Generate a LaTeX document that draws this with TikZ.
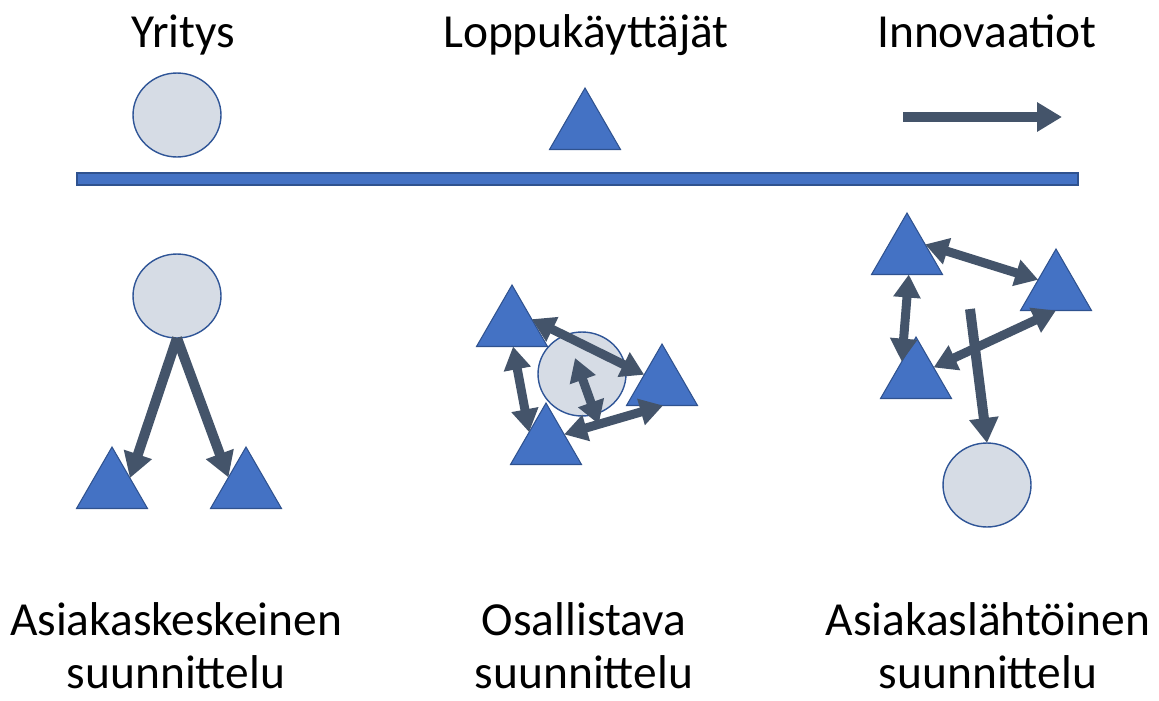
\documentclass[tikz,border=0pt]{standalone}
\usepackage{fontspec}
\setmainfont{Carlito}
\usetikzlibrary{
  shapes.geometric,
  arrows.meta
}
\definecolor{trifill}{HTML}{4472C4}
\definecolor{triline}{HTML}{2F528F}
\definecolor{ballfill}{HTML}{D6DCE5}
\definecolor{ballline}{HTML}{2F5597}
\definecolor{arrowgray}{HTML}{44546A}

\begin{document}
\begin{tikzpicture}[
    x=0.02cm, y=-0.02cm,
  label/.style = {anchor=base, inner sep=0pt, align=center,
    font=\fontsize{27}{30}\selectfont},
  ball/.style = {ellipse, draw=ballline, line width=0.8pt,
    fill=ballfill, minimum width=1.76cm, minimum height=1.68cm,
    inner sep=0pt, outer sep=0pt},
  user/.style = {regular polygon, regular polygon sides=3,
    draw=triline, line width=0.6pt, fill=trifill,
    minimum size=1.64cm, inner sep=0pt, outer sep=0pt}]
    \tikzstyle{oneway}=[draw=arrowgray, line width=0.2cm,
      -{Triangle[length=0.5cm,width=0.56cm]}]
    \tikzstyle{twoway}=[draw=arrowgray, line width=0.18cm,
      {Triangle[length=0.46cm,width=0.52cm]}-{Triangle[length=0.46cm,width=0.52cm]}]
  \useasboundingbox (0,0) rectangle (1159,700);

  \node[label] (yritys) at (183,47) {Yritys};
  \node[label] (loppu) at (586,47) {Loppukäyttäjät};
  \node[label] (innov) at (987,47) {Innovaatiot};

  \node[ball] (keyball) at (177,115) {};
  \node[user] (keyuser) at (585,129) {};
  \coordinate (keyA) at (903,117);
  \coordinate (keyB) at (1062,117);
  \draw[oneway] (keyA) -- (keyB);

  \fill[trifill, draw=triline, line width=0.6pt] (77,173) rectangle (1078,185);

  \node[ball] (lball) at (177,296) {};
  \node[user] (luserL) at (112,488) {};
  \node[user] (luserR) at (246,488) {};
  \draw[oneway] (lball.south) -- (luserL.29);
  \draw[oneway] (lball.south) -- (luserR.149);

  \node[ball] (mball) at (582,374) {};
  \node[user] (muserT) at (512,326) {};
  \node[user] (muserR) at (662,385) {};
  \node[user] (muserB) at (546,444) {};
  \coordinate (minside) at (575,358);
  \draw[twoway] (muserT.19) -- (muserR.150);
  \draw[twoway] (muserT.-87) -- (muserB.145);
  \draw[twoway] (muserB.28) -- coordinate[pos=0.35] (mjoin) (muserR.-87);
  \draw[twoway] (minside) -- (mjoin);

  \node[user] (ruserT) at (907,254) {};
  \node[user] (ruserR) at (1056,290) {};
  \node[user] (ruserB) at (916,378) {};
  \node[ball] (rball) at (987,485) {};
  \coordinate (rstart) at (970,309);
  \draw[twoway] (ruserT.28) -- (ruserR.150);
  \draw[twoway] (ruserT.-85) -- (ruserB.131);
  \draw[twoway] (ruserR.-90) -- (ruserB.31);
  \draw[oneway] (rstart) -- (rball.north);

  \node[label] (lname) at (176,688) {Asiakaskeskeinen\\suunnittelu};
  \node[label] (mname) at (584,688) {Osallistava\\suunnittelu};
  \node[label] (rname) at (988,688) {Asiakaslähtöinen\\suunnittelu};
\end{tikzpicture}
\end{document}
